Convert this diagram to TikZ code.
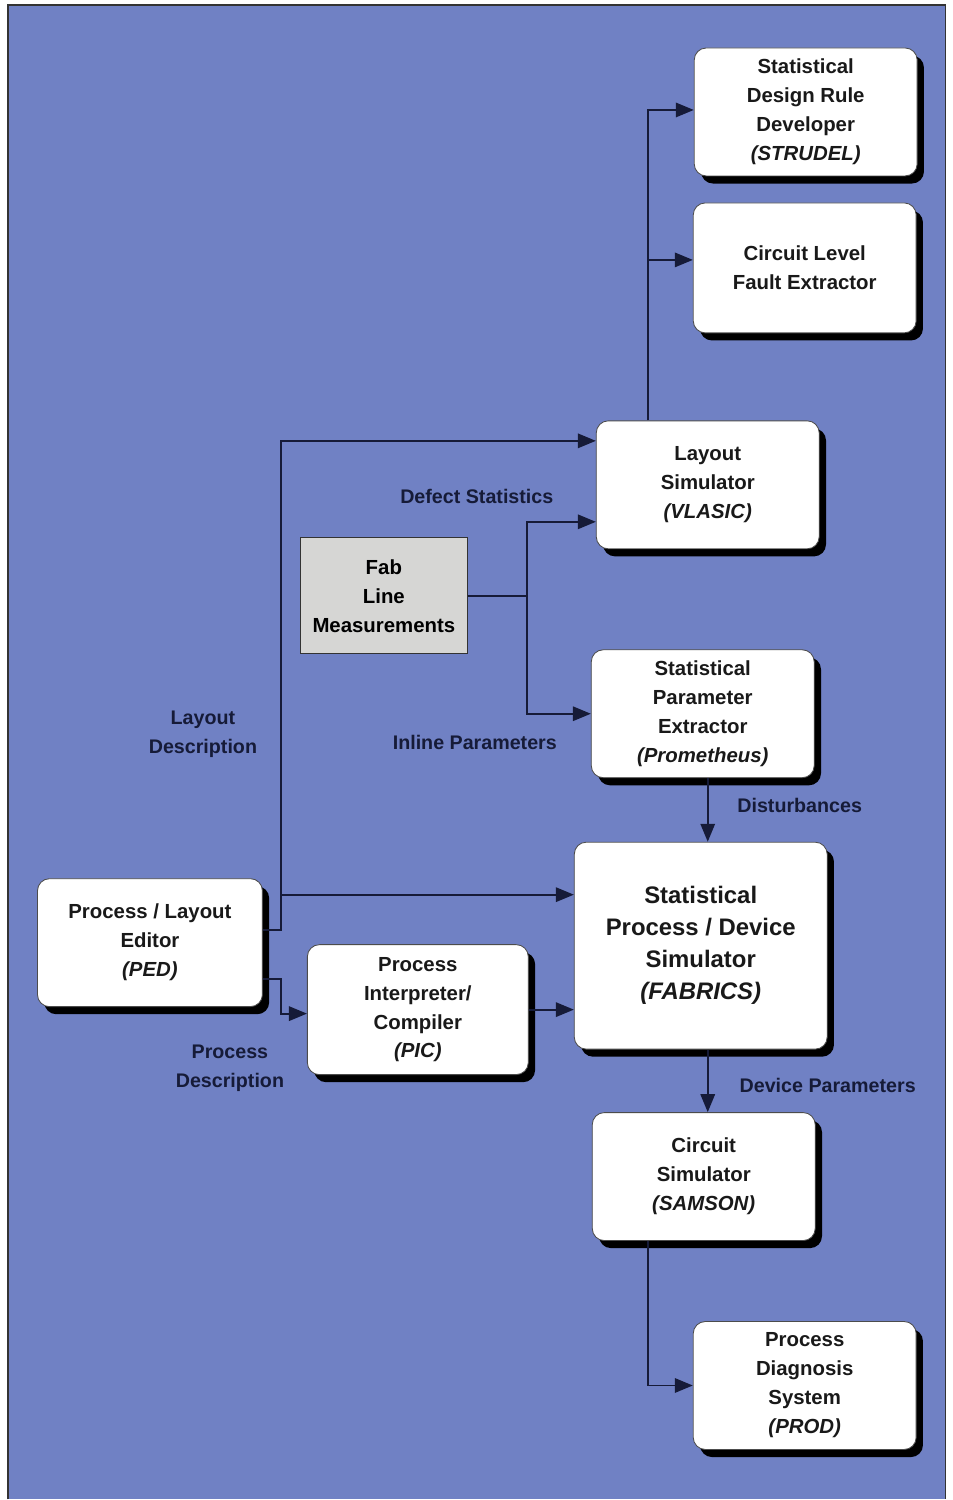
\documentclass[tikz,border=0pt]{standalone}
\usepackage{fontspec}
\setmainfont{Liberation Sans}
\usetikzlibrary{shadows,arrows.meta}
\definecolor{panelblue}{RGB}{112,129,196}
\definecolor{labelnavy}{RGB}{22,27,56}
\definecolor{fabgray}{RGB}{214,214,212}

\tikzset{
	box/.style = {draw = black!70,
				  fill = white,
				  rounded corners = 3mm,
				  line width = 0.6pt,
				  minimum width = 55.75mm,
				  minimum height = 32mm,
				  align = center,
				  text = black!90,
				  font = \bfseries\fontsize{14.5}{20.6}\selectfont,
				  drop shadow = {shadow xshift = 1.7mm, shadow yshift = -1.9mm,
								 fill = black, opacity = 1}},
	lbl/.style = {text = labelnavy,
				  align = center,
				  font = \bfseries\fontsize{14}{20.6}\selectfont},
	link/.style = {draw = labelnavy, line width = 1.4pt,
				   -{Triangle[length = 4.5mm, width = 3.6mm]}}
}

\begin{document}
\begin{tikzpicture}[x = 0.25mm, y = -0.25mm]
	\fill[white] (0,0) rectangle (953,1500);
	\fill[panelblue] (8,5) rectangle (946,1500);
	\draw[black!80, line width = 0.8pt] (8,1500) -- (8,5) -- (946,5) -- (946,1500);

	\draw (806,112) node[box](strudel) {Statistical\\Design Rule\\Developer\\\textit{(STRUDEL)}};
	\draw (805,268) node[box,
					 minimum height = 32.5mm](fault) {Circuit Level\\Fault Extractor};
	\draw (708,485) node[box](vlasic) {Layout\\Simulator\\\textit{(VLASIC)}};
	\draw (384,596) node[draw = black!80,
					 fill = fabgray,
					 line width = 0.6pt,
					 minimum width = 41.75mm,
					 minimum height = 29mm,
					 align = center,
					 font = \bfseries\fontsize{14.5}{20.6}\selectfont](fab) {Fab\\Line\\Measurements};
	\draw (703,714) node[box](prom) {Statistical\\Parameter\\Extractor\\\textit{(Prometheus)}};
	\draw (701,946) node[box,
					 minimum width = 63.25mm,
					 minimum height = 51.75mm,
					 font = \bfseries\fontsize{17}{22.8}\selectfont](fabrics) {Statistical\\Process / Device\\Simulator\\\textit{(FABRICS)}};
	\draw (150,943) node[box,
					 minimum width = 56.25mm](ped) {Process / Layout\\Editor\\\textit{(PED)}};
	\draw (418,1010) node[box,
					 minimum width = 55.25mm,
					 minimum height = 32.5mm](pic) {Process\\Interpreter/\\Compiler\\\textit{(PIC)}};
	\draw (704,1177) node[box](samson) {Circuit\\Simulator\\\textit{(SAMSON)}};
	\draw (805,1386) node[box](prod) {Process\\Diagnosis\\System\\\textit{(PROD)}};

	\coordinate (layjoin) at (281,895);
	\coordinate (fabjoin) at (527,596);
	\coordinate (ruljoin) at (648,260);

	\draw[link] (ped.east |- 0,930) -| (281,441) -- (vlasic.west |- 0,441);
	\draw[link] (layjoin) -- (fabrics.west |- layjoin);
	\draw[link] (ped.east |- 0,979) -| (281,1014) -- (pic.west |- 0,1014);
	\draw[link] (pic.east) -- (fabrics.west |- pic.east);

	\draw[link] (fab.east) -| (527,522) -- (vlasic.west |- 0,522);
	\draw[link] (fabjoin) |- (prom.west |- 0,714);

	\draw[link] (vlasic.north -| 648,0) |- (strudel.west |- 0,110);
	\draw[link] (ruljoin) -- (fault.west |- ruljoin);

	\draw[link] (708,0 |- prom.south) -- (708,0 |- fabrics.north);
	\draw[link] (708,0 |- fabrics.south) -- (708,0 |- samson.north);
	\draw[link] (samson.south -| 648,0) |- (prod.west);

	\draw (203,735) node[lbl](laydesc) {Layout\\Description};
	\draw (230,1069) node[lbl](procdesc) {Process\\Description};
	\draw (477,497) node[lbl](defect) {Defect Statistics};
	\draw (475,743) node[lbl](inline) {Inline Parameters};
	\draw (800,806) node[lbl](disturb) {Disturbances};
	\draw (828,1086) node[lbl](devpar) {Device Parameters};
\end{tikzpicture}
\end{document}
